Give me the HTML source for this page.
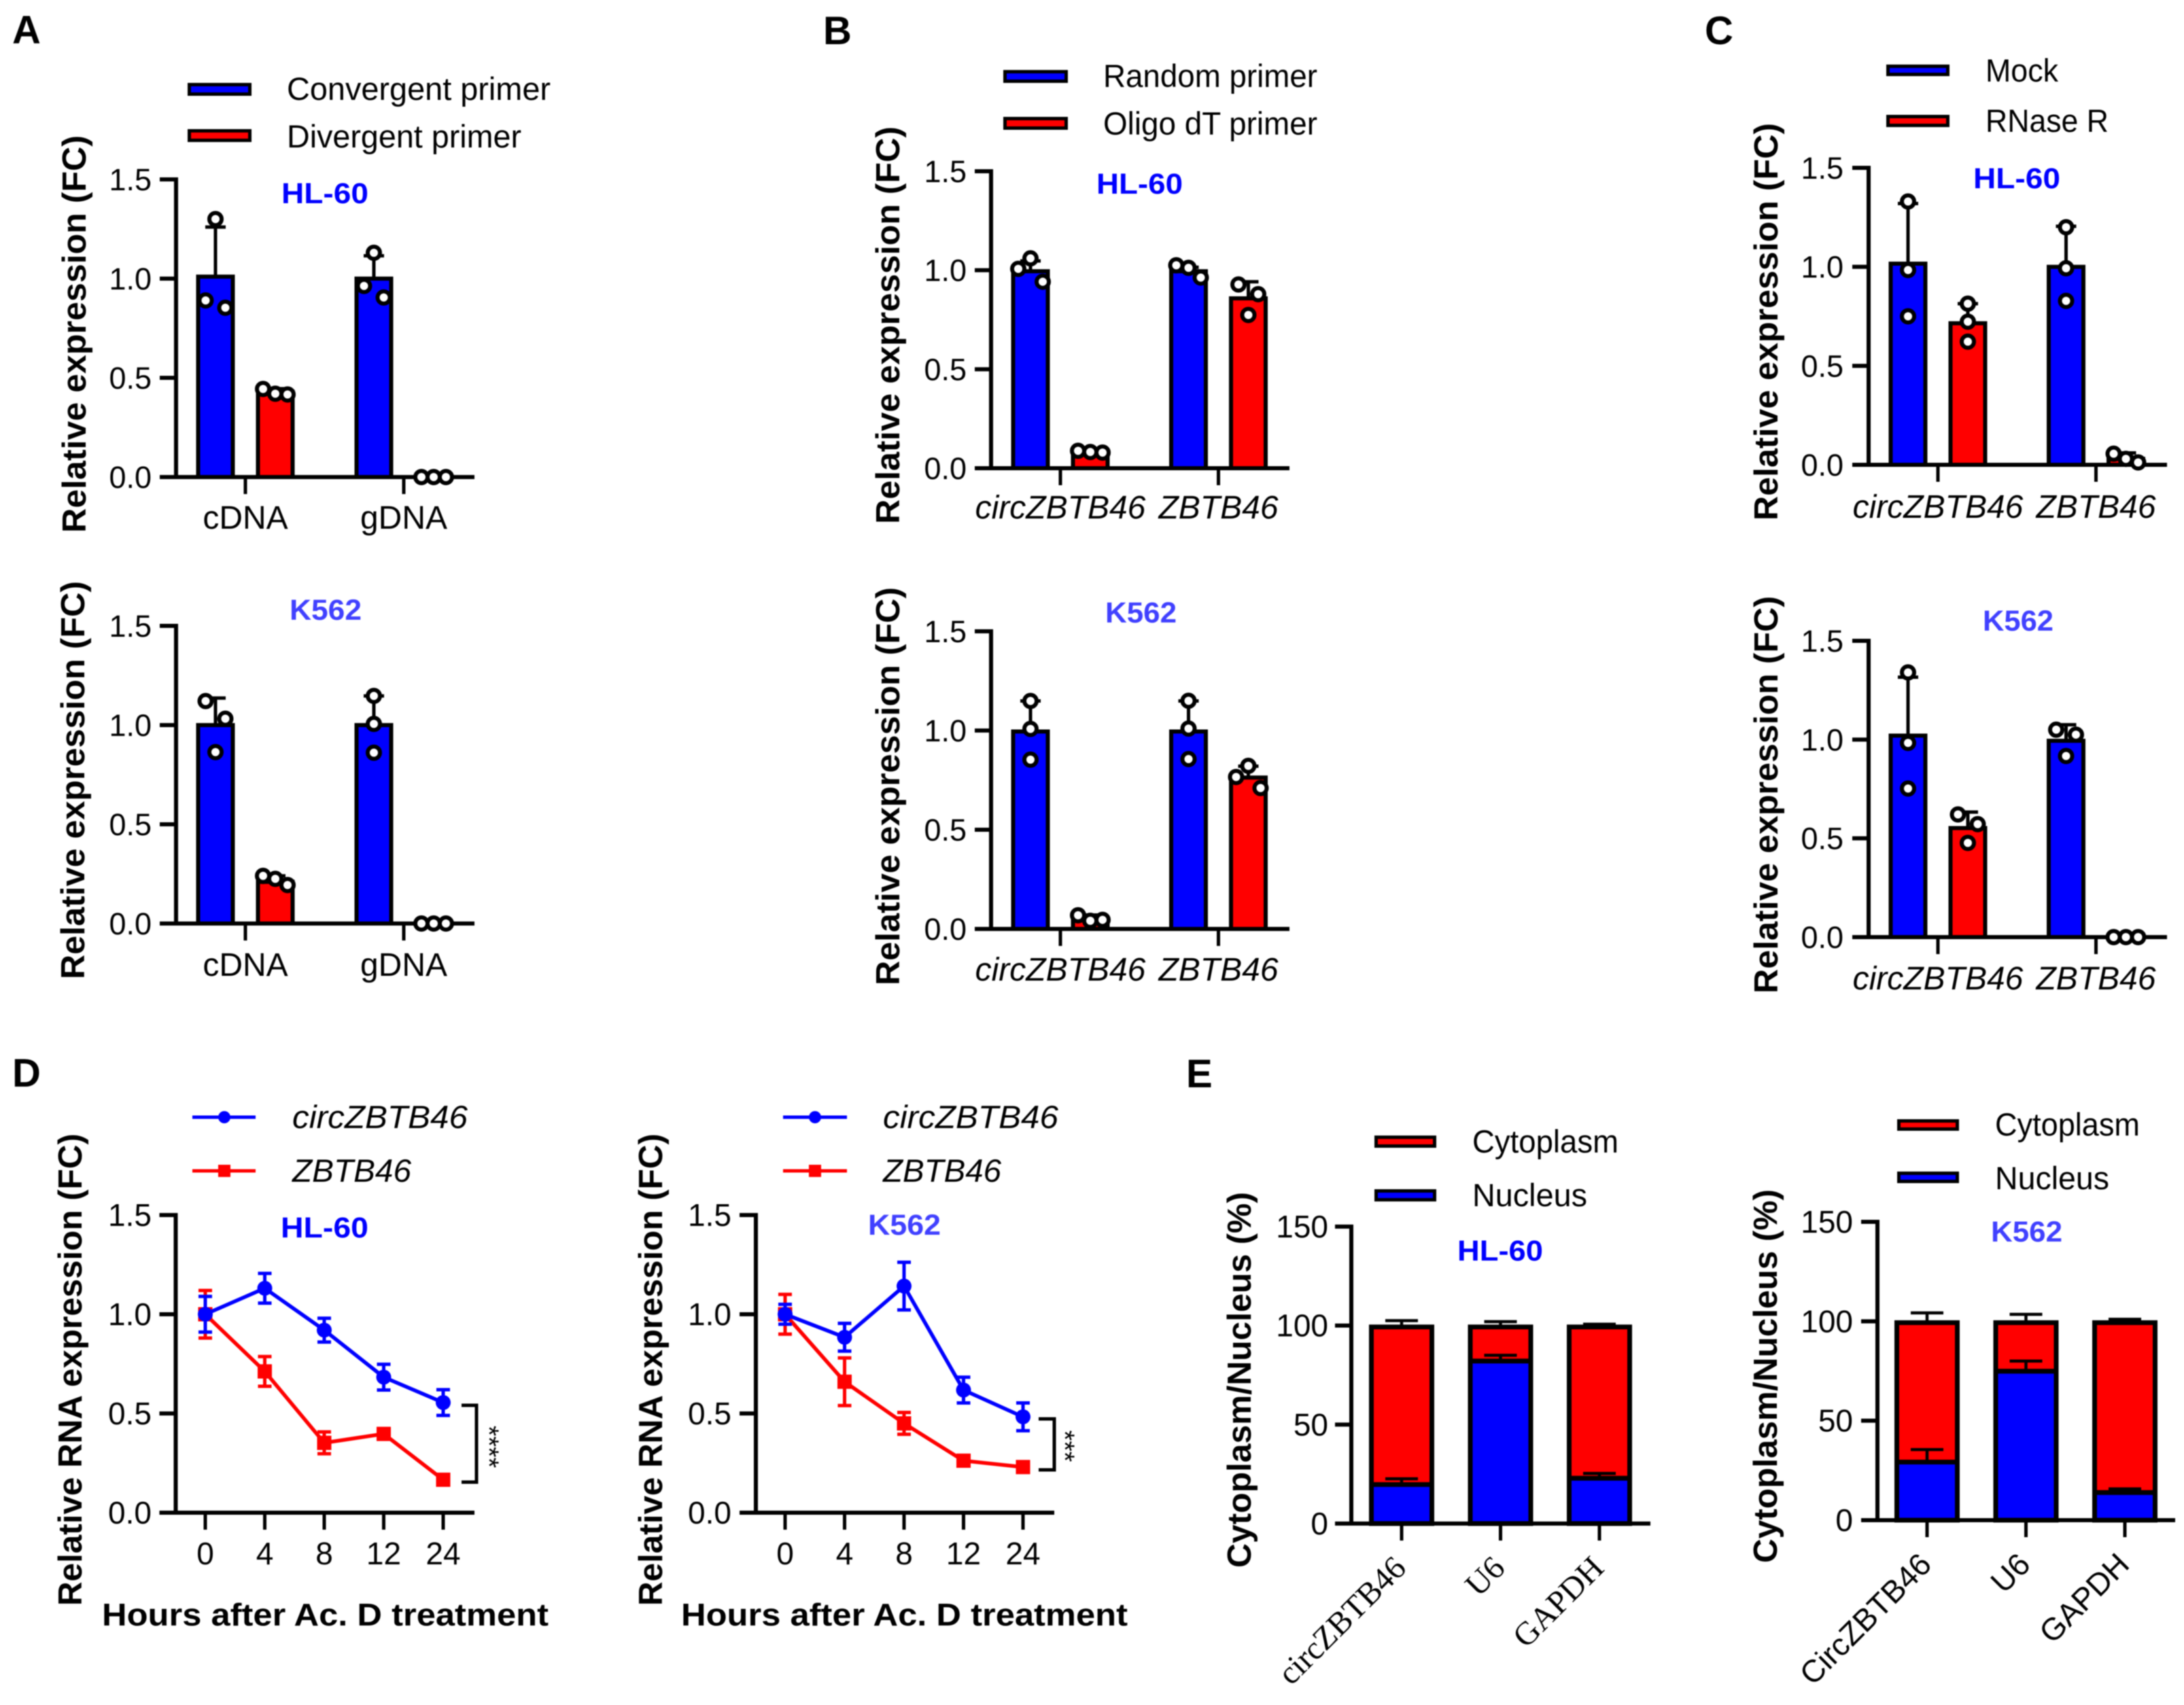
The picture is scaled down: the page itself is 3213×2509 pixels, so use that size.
<!DOCTYPE html>
<html lang="en">
<head>
<meta charset="utf-8">
<title>circZBTB46 expression panels</title>
<style>
html,body{margin:0;padding:0;background:#fff;}
svg{display:block;filter:blur(0.7px);}
text{font-family:"Liberation Sans",sans-serif;fill:#000;}
.letter{font-size:58px;font-weight:700;}
.ytitle{font-size:49px;font-weight:700;}
.xtitle{font-size:46px;font-weight:700;}
.legend{font-size:47px;}
.ital{font-style:italic;}
.hl{font-size:43px;font-weight:700;fill:#0000ff;}
.k5{font-size:43px;font-weight:700;fill:#4040ff;}
.stars{font-size:40px;}
</style>
</head>
<body>
<svg id="figure" xmlns="http://www.w3.org/2000/svg" width="3213" height="2509" viewBox="0 0 3213 2509">
<rect width="3213" height="2509" fill="#fff"/>

<text class="letter" x="18" y="64">A</text>
<text class="letter" x="1211" y="65">B</text>
<text class="letter" x="2508" y="65">C</text>
<text class="letter" x="18" y="1599">D</text>
<text class="letter" x="1745" y="1600">E</text>

<!-- Panel A legend -->
<g>
<rect x="278.500" y="124.500" width="89" height="14" fill="#0000ff" stroke="#000" stroke-width="5"/>
<rect x="278.500" y="192.500" width="89" height="14" fill="#ff0000" stroke="#000" stroke-width="5"/>
<text class="legend" x="422" y="147" textLength="388" lengthAdjust="spacingAndGlyphs">Convergent primer</text>
<text class="legend" x="422" y="217" textLength="345" lengthAdjust="spacingAndGlyphs">Divergent primer</text>
</g>
<!-- Panel B legend -->
<g>
<rect x="1478.500" y="105.500" width="90" height="14" fill="#0000ff" stroke="#000" stroke-width="5"/>
<rect x="1478.500" y="174.500" width="90" height="14" fill="#ff0000" stroke="#000" stroke-width="5"/>
<text class="legend" x="1623" y="128" textLength="315" lengthAdjust="spacingAndGlyphs">Random primer</text>
<text class="legend" x="1623" y="198" textLength="315" lengthAdjust="spacingAndGlyphs">Oligo dT primer</text>
</g>
<!-- Panel C legend -->
<g>
<rect x="2777.500" y="97.500" width="88" height="12" fill="#0000ff" stroke="#000" stroke-width="5"/>
<rect x="2777.500" y="171.500" width="88" height="13" fill="#ff0000" stroke="#000" stroke-width="5"/>
<text class="legend" x="2921" y="120" textLength="107" lengthAdjust="spacingAndGlyphs">Mock</text>
<text class="legend" x="2921" y="194" textLength="181" lengthAdjust="spacingAndGlyphs">RNase R</text>
</g>
<!-- Panel D legends -->
<g>
<line x1="283" x2="376" y1="1644" y2="1644" stroke="#0000ff" stroke-width="5"/>
<circle cx="330" cy="1644" r="9" fill="#0000ff"/>
<line x1="283" x2="376" y1="1723" y2="1723" stroke="#ff0000" stroke-width="5"/>
<rect x="321" y="1714" width="18" height="18" fill="#ff0000"/>
<text class="legend ital" x="430" y="1660" textLength="258" lengthAdjust="spacingAndGlyphs">circZBTB46</text>
<text class="legend ital" x="430" y="1739" textLength="175" lengthAdjust="spacingAndGlyphs">ZBTB46</text>
</g>
<g>
<line x1="1152" x2="1246" y1="1644" y2="1644" stroke="#0000ff" stroke-width="5"/>
<circle cx="1199" cy="1644" r="9" fill="#0000ff"/>
<line x1="1152" x2="1246" y1="1723" y2="1723" stroke="#ff0000" stroke-width="5"/>
<rect x="1190" y="1714" width="18" height="18" fill="#ff0000"/>
<text class="legend ital" x="1299" y="1660" textLength="258" lengthAdjust="spacingAndGlyphs">circZBTB46</text>
<text class="legend ital" x="1299" y="1739" textLength="174" lengthAdjust="spacingAndGlyphs">ZBTB46</text>
</g>
<!-- Panel E legends -->
<g>
<rect x="2024.500" y="1673.500" width="86" height="13" fill="#ff0000" stroke="#000" stroke-width="5"/>
<rect x="2024.500" y="1752.500" width="86" height="13" fill="#0000ff" stroke="#000" stroke-width="5"/>
<text class="legend" x="2166" y="1696" textLength="215" lengthAdjust="spacingAndGlyphs">Cytoplasm</text>
<text class="legend" x="2166" y="1775" textLength="169" lengthAdjust="spacingAndGlyphs">Nucleus</text>
</g>
<g>
<rect x="2793.500" y="1649.500" width="86" height="12" fill="#ff0000" stroke="#000" stroke-width="5"/>
<rect x="2793.500" y="1726.500" width="86" height="12" fill="#0000ff" stroke="#000" stroke-width="5"/>
<text class="legend" x="2935" y="1671" textLength="213" lengthAdjust="spacingAndGlyphs">Cytoplasm</text>
<text class="legend" x="2935" y="1750" textLength="168" lengthAdjust="spacingAndGlyphs">Nucleus</text>
</g>

<!-- Cell-line titles -->
<text class="hl" x="414" y="299" textLength="128" lengthAdjust="spacingAndGlyphs">HL-60</text>
<text class="k5" x="426" y="912" textLength="106" lengthAdjust="spacingAndGlyphs">K562</text>
<text class="hl" x="1613" y="285" textLength="127" lengthAdjust="spacingAndGlyphs">HL-60</text>
<text class="k5" x="1626" y="916" textLength="105" lengthAdjust="spacingAndGlyphs">K562</text>
<text class="hl" x="2903" y="277" textLength="128" lengthAdjust="spacingAndGlyphs">HL-60</text>
<text class="k5" x="2917" y="928" textLength="104" lengthAdjust="spacingAndGlyphs">K562</text>
<text class="hl" x="413" y="1821" textLength="129" lengthAdjust="spacingAndGlyphs">HL-60</text>
<text class="k5" x="1277" y="1817" textLength="107" lengthAdjust="spacingAndGlyphs">K562</text>
<text class="hl" x="2144" y="1855" textLength="126" lengthAdjust="spacingAndGlyphs">HL-60</text>
<text class="k5" x="2929" y="1827" textLength="105" lengthAdjust="spacingAndGlyphs">K562</text>

<!-- Y axis titles -->
<text class="ytitle" transform="translate(126,784) rotate(-90)" textLength="585" lengthAdjust="spacingAndGlyphs">Relative expression (FC)</text>
<text class="ytitle" transform="translate(124,1441) rotate(-90)" textLength="586" lengthAdjust="spacingAndGlyphs">Relative expression (FC)</text>
<text class="ytitle" transform="translate(1323,771) rotate(-90)" textLength="585" lengthAdjust="spacingAndGlyphs">Relative expression (FC)</text>
<text class="ytitle" transform="translate(1323,1450) rotate(-90)" textLength="586" lengthAdjust="spacingAndGlyphs">Relative expression (FC)</text>
<text class="ytitle" transform="translate(2615,766) rotate(-90)" textLength="585" lengthAdjust="spacingAndGlyphs">Relative expression (FC)</text>
<text class="ytitle" transform="translate(2615,1462) rotate(-90)" textLength="585" lengthAdjust="spacingAndGlyphs">Relative expression (FC)</text>
<text class="ytitle" transform="translate(120,2363) rotate(-90)" textLength="695" lengthAdjust="spacingAndGlyphs">Relative RNA expression (FC)</text>
<text class="ytitle" transform="translate(974,2363) rotate(-90)" textLength="695" lengthAdjust="spacingAndGlyphs">Relative RNA expression (FC)</text>
<text class="ytitle" transform="translate(1840,2307) rotate(-90)" textLength="553" lengthAdjust="spacingAndGlyphs">Cytoplasm/Nucleus (%)</text>
<text class="ytitle" transform="translate(2614,2300) rotate(-90)" textLength="550" lengthAdjust="spacingAndGlyphs">Cytoplasm/Nucleus (%)</text>

<!-- X axis titles -->
<text class="xtitle" x="150" y="2392" textLength="657" lengthAdjust="spacingAndGlyphs">Hours after Ac. D treatment</text>
<text class="xtitle" x="1002" y="2392" textLength="657" lengthAdjust="spacingAndGlyphs">Hours after Ac. D treatment</text>

<!-- Significance brackets -->
<path d="M679 2068H701V2181H679" fill="none" stroke="#000" stroke-width="5"/>
<text class="stars" transform="translate(706,2129) rotate(90)" text-anchor="middle">****</text>
<path d="M1528 2088H1551V2163H1528" fill="none" stroke="#000" stroke-width="5"/>
<text class="stars" transform="translate(1553,2128) rotate(90)" text-anchor="middle">***</text>
</svg>

<script>
// ---------- Shared tick labels ----------
const fcTickLabels = ['0.0', '0.5', '1.0', '1.5'];
const pctTickLabels = ['0', '50', '100', '150'];
const hoursLabels = ['0', '4', '8', '12', '24'];

// ---------- Panel A ----------
const aCategories = ['cDNA', 'gDNA'];
const aHlBlue = [1.01, 1.0];
const aHlBlueErr = [0.25, 0.115];
const aHlBlueDots = [[0.89, 1.30, 0.853], [0.963, 1.13, 0.905]];
const aHlRed = [0.43, 0];
const aHlRedErr = [0.015, 0];
const aHlRedDots = [[0.444, 0.42, 0.416], [0, 0, 0]];
const aKBlue = [1.0, 1.0];
const aKBlueErr = [0.136, 0.147];
const aKBlueDots = [[1.121, 0.864, 1.032], [1.147, 1.006, 0.861]];
const aKRed = [0.21, 0];
const aKRedErr = [0.03, 0];
const aKRedDots = [[0.24, 0.225, 0.194], [0, 0, 0]];

// ---------- Panel B ----------
const bCategories = ['circZBTB46', 'ZBTB46'];
const bHlBlue = [0.995, 0.995];
const bHlBlueErr = [0.052, 0.02];
const bHlBlueDots = [[1.007, 1.06, 0.942], [1.025, 1.012, 0.963]];
const bHlRed = [0.07, 0.858];
const bHlRedErr = [0.012, 0.084];
const bHlRedDots = [[0.088, 0.082, 0.079], [0.928, 0.774, 0.879]];
const bKBlue = [0.995, 0.995];
const bKBlueErr = [0.154, 0.154];
const bKBlueDots = [[1.149, 1.008, 0.853], [1.15, 1.01, 0.856]];
const bKRed = [0.05, 0.763];
const bKRedErr = [0.02, 0.057];
const bKRedDots = [[0.069, 0.041, 0.046], [0.766, 0.822, 0.71]];

// ---------- Panel C ----------
const cCategories = ['circZBTB46', 'ZBTB46'];
const cHlBlue = [1.016, 1.0];
const cHlBlueErr = [0.304, 0.205];
const cHlBlueDots = [[1.33, 0.984, 0.75], [1.2, 0.993, 0.828]];
const cHlRed = [0.715, 0.03];
const cHlRedErr = [0.099, 0.03];
const cHlRedDots = [[0.814, 0.723, 0.622], [0.056, 0.03, 0.012]];
const cKBlue = [1.02, 0.994];
const cKBlueErr = [0.296, 0.081];
const cKBlueDots = [[1.34, 0.983, 0.752], [1.05, 0.917, 1.025]];
const cKRed = [0.552, 0];
const cKRedErr = [0.081, 0];
const cKRedDots = [[0.621, 0.477, 0.572], [0, 0, 0]];

// ---------- Panel D ----------
const dHlCirc = [1.0, 1.131, 0.92, 0.683, 0.555];
const dHlCircErr = [0.09, 0.075, 0.06, 0.065, 0.065];
const dHlZbtb = [1.0, 0.712, 0.352, 0.397, 0.166];
const dHlZbtbErr = [0.12, 0.075, 0.055, 0.02, 0.01];
const dKCirc = [1.0, 0.884, 1.142, 0.618, 0.483];
const dKCircErr = [0.05, 0.07, 0.12, 0.065, 0.07];
const dKZbtb = [1.0, 0.66, 0.45, 0.262, 0.23];
const dKZbtbErr = [0.1, 0.12, 0.055, 0.01, 0.01];

// ---------- Panel E ----------
const eHlCategories = ['circZBTB46', 'U6', 'GAPDH'];
const eHlNucleus = [20.4, 82.8, 23.6];
const eHlNucleusErr = [2.2, 2.2, 1.7];
const eHlCytoplasm = [79.6, 17.2, 76.4];
const eHlCytoplasmErr = [2.5, 2.0, 0.7];
const eKCategories = ['CircZBTB46', 'U6', 'GAPDH'];
const eKNucleus = [29.9, 75.6, 14.6];
const eKNucleusErr = [5.6, 4.4, 1.1];
const eKCytoplasm = [70.1, 24.4, 85.4];
const eKCytoplasmErr = [4.2, 3.5, 1.0];

// ---------- Layout (frames, not data) ----------
const frameBarCommon = {tickLeft: 24, tickLen: 25, bar: 57, offset: 44, stroke: 6};
const frameAHl = {axisX: 259, top: 264, bottom: 702, right: 698, labelRight: 223, first: 361, step: 233, labelY: 778};
const frameAK = {axisX: 259, top: 921, bottom: 1359, right: 698, labelRight: 223, first: 361, step: 233, labelY: 1436};
const frameBHl = {axisX: 1458, top: 252, bottom: 689, right: 1897, labelRight: 1422, first: 1560, step: 232.5, labelY: 763};
const frameBK = {axisX: 1458, top: 929, bottom: 1367, right: 1897, labelRight: 1422, first: 1560, step: 232.5, labelY: 1443};
const frameCHl = {axisX: 2749, top: 247, bottom: 684, right: 3188, labelRight: 2712, first: 2851, step: 232.5, labelY: 762};
const frameCK = {axisX: 2749, top: 943, bottom: 1379, right: 3188, labelRight: 2712, first: 2851, step: 232.5, labelY: 1456};
const frameDHl = {axisX: 258.500, top: 1788, bottom: 2226, right: 698, labelRight: 223, first: 302, step: 87.500, labelY: 2302};
const frameDK = {axisX: 1112, top: 1788, bottom: 2226, right: 1551, labelRight: 1076, first: 1155, step: 87.500, labelY: 2302};
const frameEHl = {axisX: 1988, top: 1805, bottom: 2242, right: 2428, labelRight: 1954, first: 2062, step: 145.500, barW: 96, serifSize: 48};
const frameEK = {axisX: 2762, top: 1798, bottom: 2237, right: 3200, labelRight: 2726, first: 2835, step: 145.500, barW: 96, serifSize: 46};

const figure = document.getElementById('figure');
const NS = 'http://www.w3.org/2000/svg';

function make(tag, parent, name, attrs, content) {
  const el = document.createElementNS(NS, tag);
  for (const k in attrs) el.setAttribute(k, attrs[k]);
  
  
  if (content !== undefined) el.textContent = content;
  parent.appendChild(el);
  return el;
}

function yScale(frame, maxValue) {
  return function (v) { return frame.bottom - (v / maxValue) * (frame.bottom - frame.top); };
}
function xBand(frame) {
  return function (i) { return frame.first + i * frame.step; };
}

function drawYAxis(g, frame, labels, maxValue, fontSize) {
  const y = yScale(frame, maxValue);
  make('line', g, 'y-axis-line', {x1: frame.axisX, x2: frame.axisX, y1: y(maxValue) - 3, y2: frame.bottom, stroke: '#000', 'stroke-width': 6});
  labels.forEach(function (lab, i) {
    const v = maxValue * i / (labels.length - 1);
    make('line', g, 'y-axis-tick', {x1: frame.axisX - frameBarCommon.tickLeft, x2: frame.axisX, y1: y(v), y2: y(v), stroke: '#000', 'stroke-width': 6});
    make('text', g, 'y-tick-label', {x: frame.labelRight, y: y(v) + 16, 'text-anchor': 'end', 'font-size': fontSize}, lab);
  });
}
function drawXAxisLine(g, frame) {
  make('line', g, 'x-axis-line', {x1: frame.axisX - frameBarCommon.tickLeft, x2: frame.right, y1: frame.bottom, y2: frame.bottom, stroke: '#000', 'stroke-width': 6});
}
function drawXTicks(g, frame, labels, italic, fontSize) {
  const x = xBand(frame);
  labels.forEach(function (lab, i) {
    make('line', g, 'x-axis-tick', {x1: x(i), x2: x(i), y1: frame.bottom, y2: frame.bottom + frameBarCommon.tickLen, stroke: '#000', 'stroke-width': 5});
    if (frame.labelY) {
      const a = {x: x(i), y: frame.labelY, 'text-anchor': 'middle', 'font-size': fontSize};
      if (italic) a['font-style'] = 'italic';
      make('text', g, 'x-tick-label', a, lab);
    }
  });
}

function dotOffsets(values) {
  const order = values.map(function (v, i) { return i; }).sort(function (p, q) { return values[q] - values[p]; });
  const clusters = [];
  order.forEach(function (idx) {
    const last = clusters[clusters.length - 1];
    if (last && values[last[last.length - 1]] - values[idx] < 0.09) last.push(idx);
    else clusters.push([idx]);
  });
  const out = [];
  clusters.forEach(function (c) {
    const sorted = c.slice().sort(function (p, q) { return p - q; });
    sorted.forEach(function (idx, k) {
      if (sorted.length === 1) out[idx] = 0;
      else if (sorted.length === 2) out[idx] = k === 0 ? -14.500 : 14.500;
      else out[idx] = (k - 1) * 18;
    });
  });
  return out;
}

function drawGroupedBars(frame, name, categories, italic, blue, blueErr, blueDots, red, redErr, redDots) {
  const g = make('g', figure, name, {});
  const y = yScale(frame, 1.5);
  const x = xBand(frame);
  const w = frameBarCommon.bar;
  const sw = frameBarCommon.stroke;
  const off = frameBarCommon.offset;
  const series = [
    {vals: blue, errs: blueErr, dots: blueDots, color: '#0000ff', dx: -off, label: 'blue'},
    {vals: red, errs: redErr, dots: redDots, color: '#ff0000', dx: off, label: 'red'}
  ];
  series.forEach(function (s) {
    s.vals.forEach(function (v, i) {
      const cx = x(i) + s.dx;
      if (v > 0) {
        const el = make('rect', g, 'bar-' + s.label, {x: cx - w / 2 + sw / 2, y: y(v), width: w - sw, height: frame.bottom - y(v), fill: s.color, stroke: '#000', 'stroke-width': sw});
        el.setAttribute('data-series', s.label);
      }
      if (s.errs[i] > 0) {
        make('line', g, 'error-stem', {x1: cx, x2: cx, y1: y(v), y2: y(v + s.errs[i]), stroke: '#000', 'stroke-width': 5});
        make('line', g, 'error-cap', {x1: cx - 15, x2: cx + 15, y1: y(v + s.errs[i]), y2: y(v + s.errs[i]), stroke: '#000', 'stroke-width': 5});
      }
    });
  });
  drawXAxisLine(g, frame);
  drawYAxis(g, frame, fcTickLabels, 1.5, 45);
  drawXTicks(g, frame, categories, italic, 48);
  series.forEach(function (s) {
    s.dots.forEach(function (reps, i) {
      const offs = dotOffsets(reps);
      reps.forEach(function (r, k) {
        make('circle', g, 'replicate-dot', {cx: x(i) + s.dx + offs[k], cy: y(r), r: 9, fill: '#fff', stroke: '#000', 'stroke-width': 6});
      });
    });
  });
}

function drawLines(frame, name, circ, circErr, zbtb, zbtbErr) {
  const g = make('g', figure, name, {});
  const y = yScale(frame, 1.5);
  const x = xBand(frame);
  drawXAxisLine(g, frame);
  drawYAxis(g, frame, fcTickLabels, 1.5, 46);
  drawXTicks(g, frame, hoursLabels, false, 46);
  function series(vals, errs, color, marker) {
    const pts = vals.map(function (v, i) { return x(i) + ',' + y(v); }).join(' ');
    make('polyline', g, 'line-' + marker, {points: pts, fill: 'none', stroke: color, 'stroke-width': 5.500});
    vals.forEach(function (v, i) {
      const yu = y(v + errs[i]);
      const yd = y(v - errs[i]);
      make('line', g, 'error-stem-' + marker, {x1: x(i), x2: x(i), y1: yu, y2: yd, stroke: color, 'stroke-width': 5});
      make('line', g, 'error-cap-' + marker, {x1: x(i) - 10, x2: x(i) + 10, y1: yu, y2: yu, stroke: color, 'stroke-width': 5});
      make('line', g, 'error-cap-' + marker, {x1: x(i) - 10, x2: x(i) + 10, y1: yd, y2: yd, stroke: color, 'stroke-width': 5});
      if (marker === 'circle') {
        make('circle', g, 'point-circ', {cx: x(i), cy: y(v), r: 11, fill: color});
      } else {
        make('rect', g, 'point-zbtb', {x: x(i) - 10.500, y: y(v) - 10.500, width: 21, height: 21, fill: color});
      }
    });
  }
  series(zbtb, zbtbErr, '#ff0000', 'square');
  series(circ, circErr, '#0000ff', 'circle');
}

function drawStacked(frame, name, categories, serif, nucleus, nucleusErr, cytoplasm, cytoplasmErr) {
  const g = make('g', figure, name, {});
  const y = yScale(frame, 150);
  const x = xBand(frame);
  const w = frame.barW;
  categories.forEach(function (cat, i) {
    const cx = x(i);
    const total = nucleus[i] + cytoplasm[i];
    make('rect', g, 'bar-nucleus', {x: cx - w / 2 + 3.500, y: y(nucleus[i]) + 2, width: w - 7, height: y(0) - y(nucleus[i]) - 2, fill: '#0000ff', stroke: '#000', 'stroke-width': 7});
    make('rect', g, 'bar-cytoplasm', {x: cx - w / 2 + 3.500, y: y(total) + 2, width: w - 7, height: y(nucleus[i]) - y(total), fill: '#ff0000', stroke: '#000', 'stroke-width': 7});
    [[nucleus[i], nucleusErr[i]], [total, cytoplasmErr[i]]].forEach(function (p) {
      make('line', g, 'error-stem', {x1: cx, x2: cx, y1: y(p[0]), y2: y(p[0] + p[1]), stroke: '#000', 'stroke-width': 4.500});
      make('line', g, 'error-cap', {x1: cx - 24, x2: cx + 24, y1: y(p[0] + p[1]), y2: y(p[0] + p[1]), stroke: '#000', 'stroke-width': 4.500});
    });
  });
  drawXAxisLine(g, frame);
  drawYAxis(g, frame, pctTickLabels, 150, 46);
  drawXTicks(g, frame, categories, false, 46);
  categories.forEach(function (cat, i) {
    const ex = x(i) + 9;
    const ey = frame.bottom + 68;
    const a = {'text-anchor': 'end', 'font-size': frame.serifSize, transform: 'translate(' + ex + ',' + ey + ') rotate(-45)'};
    if (serif) a.style = 'font-family:"Liberation Serif",serif';
    make('text', g, 'x-tick-label-rotated', a, cat);
  });
}

drawGroupedBars(frameAHl, 'chart-a-hl60', aCategories, false, aHlBlue, aHlBlueErr, aHlBlueDots, aHlRed, aHlRedErr, aHlRedDots);
drawGroupedBars(frameAK, 'chart-a-k562', aCategories, false, aKBlue, aKBlueErr, aKBlueDots, aKRed, aKRedErr, aKRedDots);
drawGroupedBars(frameBHl, 'chart-b-hl60', bCategories, true, bHlBlue, bHlBlueErr, bHlBlueDots, bHlRed, bHlRedErr, bHlRedDots);
drawGroupedBars(frameBK, 'chart-b-k562', bCategories, true, bKBlue, bKBlueErr, bKBlueDots, bKRed, bKRedErr, bKRedDots);
drawGroupedBars(frameCHl, 'chart-c-hl60', cCategories, true, cHlBlue, cHlBlueErr, cHlBlueDots, cHlRed, cHlRedErr, cHlRedDots);
drawGroupedBars(frameCK, 'chart-c-k562', cCategories, true, cKBlue, cKBlueErr, cKBlueDots, cKRed, cKRedErr, cKRedDots);
drawLines(frameDHl, 'chart-d-hl60', dHlCirc, dHlCircErr, dHlZbtb, dHlZbtbErr);
drawLines(frameDK, 'chart-d-k562', dKCirc, dKCircErr, dKZbtb, dKZbtbErr);
drawStacked(frameEHl, 'chart-e-hl60', eHlCategories, true, eHlNucleus, eHlNucleusErr, eHlCytoplasm, eHlCytoplasmErr);
drawStacked(frameEK, 'chart-e-k562', eKCategories, false, eKNucleus, eKNucleusErr, eKCytoplasm, eKCytoplasmErr);
</script>
</body>
</html>
